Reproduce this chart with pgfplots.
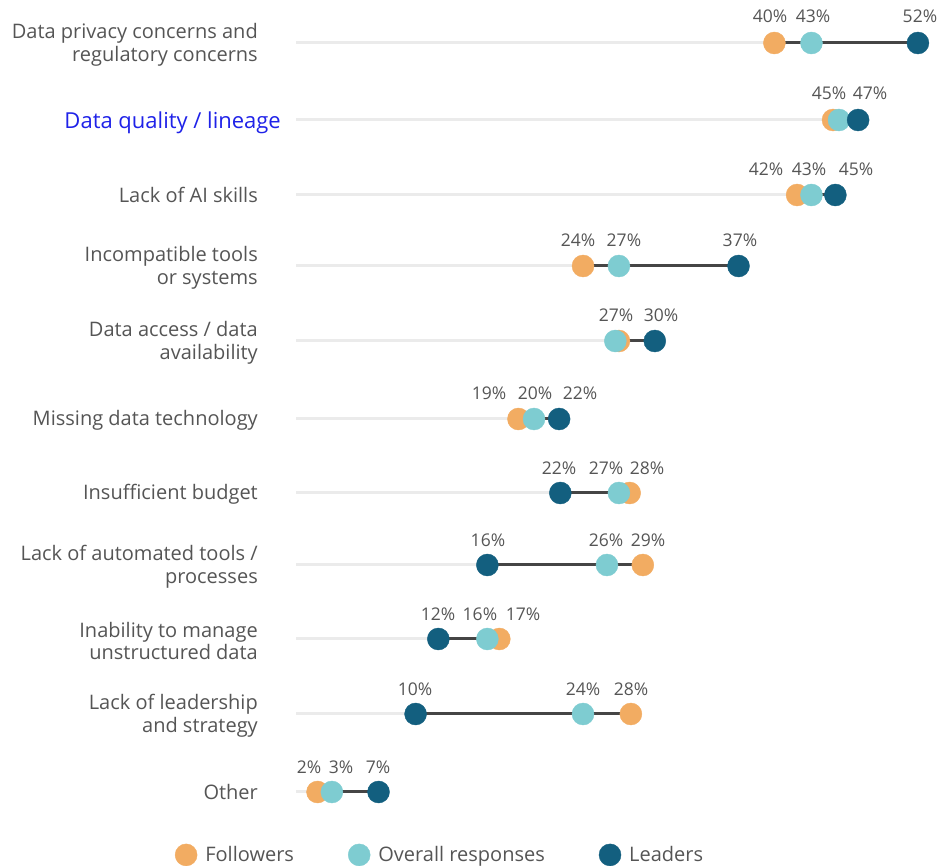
\documentclass[border=0pt]{standalone}
\usepackage{pgfplots}
\pgfplotsset{compat=1.18}
\usepackage{pgfplotstable}
\usepackage{fontspec}
\setmainfont{Open Sans}
\definecolor{fol}{HTML}{F2AC62}
\definecolor{ovr}{HTML}{7ECCD1}
\definecolor{lead}{HTML}{135F7F}
\definecolor{txt}{HTML}{555555}
\definecolor{hl}{HTML}{1F22E8}
\definecolor{track}{HTML}{EBEBEB}
\definecolor{link}{HTML}{454545}
\tikzset{
  lab/.style={anchor=base, font=\fontsize{17.5bp}{20bp}\selectfont, text=txt, inner sep=0pt},
  cat/.style={anchor=east, align=right, xshift=-38bp, yshift=-2bp, inner sep=0pt,
    font=\fontsize{20bp}{22.5bp}\selectfont, text=txt},
}

% y = row position, F = Followers, O = Overall responses, L = Leaders
\pgfplotstableread{
y     F     O     L
-43   40    43.1  52
-120  44.9  45.4  47
-195  41.9  43.1  45.1
-266  24    27    37
-341  27    26.7  30
-419  18.6  19.9  22
-493  27.9  27    22.1
-565  29    26    16
-639  17    16    11.9
-714  28    24    10
-792  1.8   3     6.9
}\data

\begin{document}
\begin{tikzpicture}
\useasboundingbox (0bp,0bp) rectangle (943bp,866bp);
\begin{axis}[
  at={(296bp,36bp)}, anchor=south west,
  scale only axis, width=645.84bp, height=830bp,
  xmin=0, xmax=54, ymin=-830, ymax=0,
  axis lines=none, clip=false, unbounded coords=jump,
  legend columns=3,
  legend cell align=left,
  legend style={draw=none, fill=none, text=txt,
    font=\fontsize{20bp}{22bp}\selectfont,
    at={(axis description cs:0.223,-0.030)}, anchor=center,
    /tikz/every even column/.append style={column sep=52bp}},
  legend image code/.code={\draw[#1] plot coordinates {(11bp,0bp)}; \path (0bp,0bp) (28bp,0bp);},
]
% background tracks (0 to max)
\addplot[track, line width=3bp, forget plot] coordinates {
(0,-43) (52,-43) (nan,nan)
(0,-120) (47,-120) (nan,nan)
(0,-195) (45.1,-195) (nan,nan)
(0,-266) (37,-266) (nan,nan)
(0,-341) (30,-341) (nan,nan)
(0,-419) (22,-419) (nan,nan)
(0,-493) (27.9,-493) (nan,nan)
(0,-565) (29,-565) (nan,nan)
(0,-639) (17,-639) (nan,nan)
(0,-714) (28,-714) (nan,nan)
(0,-792) (6.9,-792)
};
% links (min to max)
\addplot[link, line width=3bp, forget plot] coordinates {
(40,-43) (52,-43) (nan,nan)
(44.9,-120) (47,-120) (nan,nan)
(41.9,-195) (45.1,-195) (nan,nan)
(24,-266) (37,-266) (nan,nan)
(26.7,-341) (30,-341) (nan,nan)
(18.6,-419) (22,-419) (nan,nan)
(22.1,-493) (27.9,-493) (nan,nan)
(16,-565) (29,-565) (nan,nan)
(11.9,-639) (17,-639) (nan,nan)
(10,-714) (28,-714) (nan,nan)
(1.8,-792) (6.9,-792)
};
\addplot[only marks, mark=*, mark size=11bp, draw=fol, fill=fol] table[x=F, y=y] {\data};
\addplot[only marks, mark=*, mark size=11bp, draw=ovr, fill=ovr] table[x=O, y=y] {\data};
\addplot[only marks, mark=*, mark size=11bp, draw=lead, fill=lead] table[x=L, y=y] {\data};
\legend{Followers, Overall responses, Leaders}

% value labels
\node[lab] at (axis cs:39.63,-23) {40\%};
\node[lab] at (axis cs:43.23,-23) {43\%};
\node[lab] at (axis cs:52.17,-23) {52\%};
\node[lab] at (axis cs:44.57,-100) {45\%};
\node[lab] at (axis cs:47.99,-100) {47\%};
\node[lab] at (axis cs:39.30,-176) {42\%};
\node[lab] at (axis cs:42.89,-176) {43\%};
\node[lab] at (axis cs:46.82,-176) {45\%};
\node[lab] at (axis cs:23.58,-247) {24\%};
\node[lab] at (axis cs:27.42,-247) {27\%};
\node[lab] at (axis cs:37.12,-247) {37\%};
\node[lab] at (axis cs:26.76,-322) {27\%};
\node[lab] at (axis cs:30.52,-322) {30\%};
\node[lab] at (axis cs:16.14,-400) {19\%};
\node[lab] at (axis cs:19.98,-400) {20\%};
\node[lab] at (axis cs:23.75,-400) {22\%};
\node[lab] at (axis cs:21.99,-474) {22\%};
\node[lab] at (axis cs:25.92,-474) {27\%};
\node[lab] at (axis cs:29.35,-474) {28\%};
\node[lab] at (axis cs:16.05,-546) {16\%};
\node[lab] at (axis cs:25.92,-546) {26\%};
\node[lab] at (axis cs:29.43,-546) {29\%};
\node[lab] at (axis cs:11.87,-620) {12\%};
\node[lab] at (axis cs:15.38,-620) {16\%};
\node[lab] at (axis cs:18.98,-620) {17\%};
\node[lab] at (axis cs:9.95,-695) {10\%};
\node[lab] at (axis cs:24.00,-695) {24\%};
\node[lab] at (axis cs:28.01,-695) {28\%};
\node[lab] at (axis cs:1.09,-773) {2\%};
\node[lab] at (axis cs:3.76,-773) {3\%};
\node[lab] at (axis cs:6.86,-773) {7\%};

% category labels
\node[cat] at (axis cs:0,-43) {Data privacy concerns and\\regulatory concerns};
\node[cat, text=hl, xshift=23bp, yshift=-1bp, font=\fontsize{22bp}{25bp}\selectfont] at (axis cs:0,-120) {Data quality / lineage};
\node[cat] at (axis cs:0,-193) {Lack of AI skills};
\node[cat] at (axis cs:0,-266) {Incompatible tools\\or systems};
\node[cat] at (axis cs:0,-341) {Data access / data\\availability};
\node[cat] at (axis cs:0,-418) {Missing data technology};
\node[cat] at (axis cs:0,-492) {Insufficient budget};
\node[cat] at (axis cs:0,-565) {Lack of automated tools /\\processes};
\node[cat] at (axis cs:0,-639) {Inability to manage\\unstructured data};
\node[cat] at (axis cs:0,-714) {Lack of leadership\\and strategy};
\node[cat] at (axis cs:0,-790) {Other};
\end{axis}
\end{tikzpicture}
\end{document}
